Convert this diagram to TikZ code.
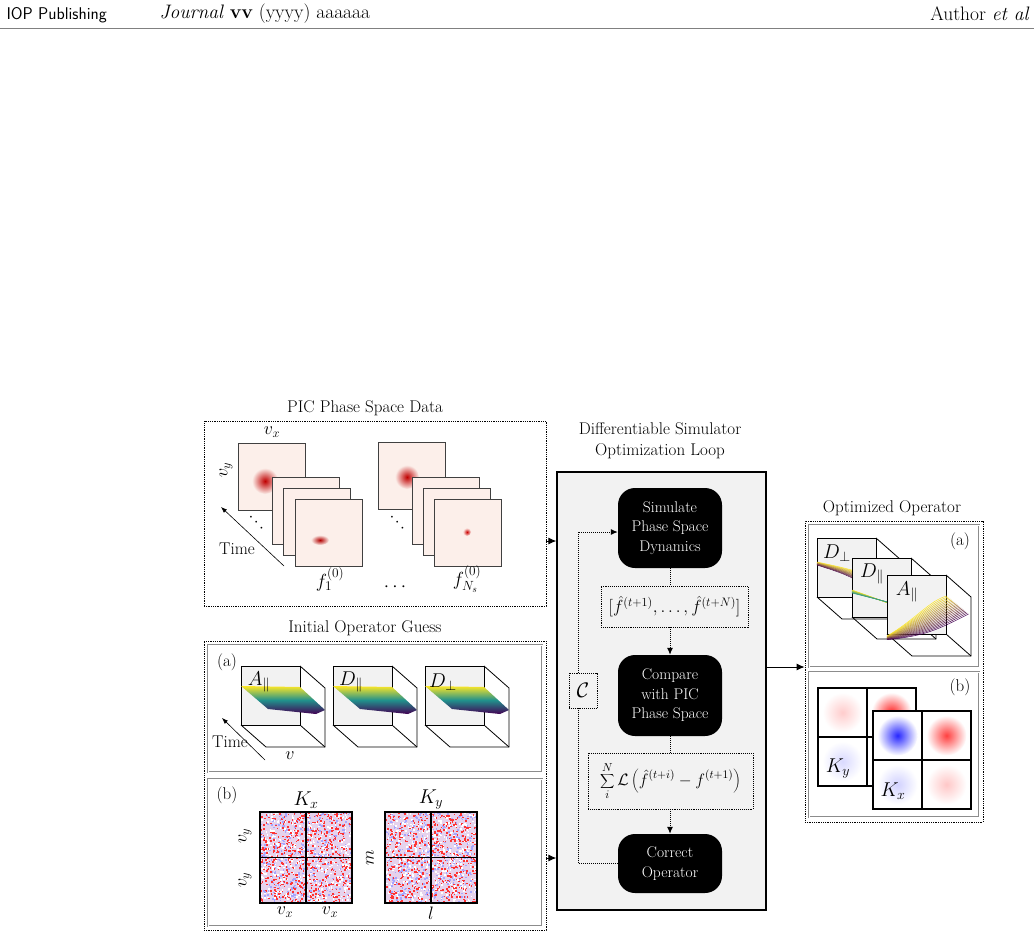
\documentclass[tikz,border=0pt]{standalone}
\usepackage{fix-cm}
\usetikzlibrary{arrows.meta,calc}
\definecolor{pinkbg}{HTML}{FCEFEA}
\definecolor{vy}{HTML}{FDE725}
\definecolor{vt}{HTML}{21918C}
\definecolor{vp}{HTML}{440154}
\definecolor{cubebg}{HTML}{F2F2F2}
\definecolor{lav}{HTML}{E6D2EC}
\begin{document}
\begin{tikzpicture}[x=1pt,y=-1pt,
  frm/.style={draw=black!75,fill=pinkbg,line width=0.8pt},
  panel/.style={draw,densely dotted,line width=0.8pt,minimum width=#1,inner sep=0pt},
  inpanel/.style={draw=black!45,double=white,double distance=0.6pt,line width=0.4pt,inner sep=0pt},
  blk/.style={fill=black,text=white,rounded corners=17pt,minimum width=104pt,minimum height=#1,align=center,inner sep=2pt,font=\fontsize{15.5}{19.5}\selectfont},
  dbox/.style={draw,densely dotted,line width=0.9pt,inner sep=0pt},
  ttl/.style={font=\fontsize{17}{21}\selectfont,align=center},
  arr/.style={-{Latex[length=8pt,width=7pt]},line width=0.9pt},
  darr/.style={densely dotted,line width=1pt},
  lab/.style={font=\fontsize{17}{19}\selectfont},
  ml/.style={font=\fontsize{18}{20}\selectfont}]
\useasboundingbox (0,0) rectangle (1034,938);
% header
\node[anchor=west,font=\sffamily\fontsize{17}{19}\selectfont] (h1) at (3,15) {IOP Publishing};
\node[anchor=west,font=\fontsize{19.5}{21}\selectfont] (h2) at (156,14) {\textit{Journal} \textbf{vv} (yyyy) aaaaaa};
\node[anchor=east,font=\fontsize{19.5}{21}\selectfont] (h3) at (1033,14) {Author \textit{et al}};
\draw[black!50,line width=0.5pt] (0,28) -- (1034,28);

% ---------- Panel 1
\node[panel=342pt,minimum height=185pt] (pic) at (375,513.5) {};
\node[ttl] (pict) at (365,408) {PIC Phase Space Data};
\newcommand\frmat[2]{\draw[frm] (#1,#2) rectangle ++(67,67);}
\frmat{238}{443}
\shade[inner color=red!75!black,outer color=pinkbg] (265,481) circle (13);
\frmat{272}{477}\frmat{283}{488}\frmat{295}{499}
\shade[inner color=red!70!black,outer color=pinkbg] (320,540) ellipse (9 and 5);
\frmat{378}{442}
\shade[inner color=red!75!black,outer color=pinkbg] (407,477) circle (12);
\frmat{412}{477}\frmat{423}{488}\frmat{434}{499}
\shade[inner color=red!80!black,outer color=pinkbg] (467,532) circle (4);
\node[ml] (vx1) at (272,432) {$v_x$};
\node[ml,rotate=90] (vy1) at (226,470) {$v_y$};
\coordinate (ta) at (284,566); \coordinate (tb) at (221,507);
\draw[-{Latex[length=6pt]},line width=0.6pt] (ta) -- (tb);
\node[lab] (time1) at (237,549) {Time};
\node[lab,rotate=-45] (dd1) at (256,523) {$\cdots$};
\node[lab,rotate=-45] (dd2) at (397,523) {$\cdots$};
\node[font=\fontsize{19}{21}\selectfont] (f1) at (330,579) {$f_1^{(0)}$};
\node[font=\fontsize{19}{21}\selectfont] (dd3) at (395,587) {$\cdots$};
\node[font=\fontsize{19}{21}\selectfont] (fn) at (467,579) {$f_{N_s}^{(0)}$};

% ---------- Panel 2
\node[panel=342pt,minimum height=289pt] (iog) at (375,785.5) {};
\node[ttl] (iogt) at (365,628) {Initial Operator Guess};
\node[inpanel,minimum width=334pt,minimum height=127pt] (iga) at (375,708.5) {};
\node[inpanel,minimum width=334pt,minimum height=147pt] (igb) at (375,852.5) {};
\node[lab] (la) at (227,662) {(a)};
\node[lab] (lb) at (227,795) {(b)};
\newcommand\cube[3]{% x y size
 \fill[cubebg] (#1,#2) rectangle ++(#3,#3);
 \draw[line width=0.8pt] (#1,#2) rectangle ++(#3,#3);
 \draw[line width=0.8pt] (#1+#3,#2) -- ++(25,22) -- ++(0,#3) -- ++(-#3,0) -- (#1,#2+#3);
 \draw[line width=0.8pt] (#1+#3,#2+#3) -- ++(25,22);}
\foreach \cx/\nm in {241/A_\parallel,333/D_\parallel,425/D_\perp}{
 \cube{\cx}{666}{59}
 \shade[top color=vy,bottom color=vp,middle color=vt] (\cx,686) -- (\cx+59,687) -- (\cx+84,710) -- (\cx+75,714) -- (\cx+27,709) -- cycle;
 \node[font=\fontsize{20}{22}\selectfont] at (\cx+18,682) {$\nm$};
}
\coordinate (tc) at (265,760); \coordinate (td) at (222,718);
\draw[-{Latex[length=6pt]},line width=0.6pt] (tc) -- (td);
\node[lab] (time2) at (230,742) {Time};
\node[ml] (vv) at (290,756) {$v$};
% noise grids
\newcommand\noisegrid[2]{%
 \fill[lav] (#1,#2) rectangle ++(92,91);
 \foreach \k in {1,...,1400}{
   \pgfmathsetmacro\rx{#1+rnd*90.4}\pgfmathsetmacro\ry{#2+rnd*89.4}
   \pgfmathsetmacro\rc{rnd}
   \ifdim\rc pt<0.45pt \fill[red!80] (\rx,\ry) rectangle ++(1.6,1.6);
   \else\ifdim\rc pt<0.75pt \fill[white] (\rx,\ry) rectangle ++(1.6,1.6);
   \else \fill[blue!35] (\rx,\ry) rectangle ++(1.6,1.6); \fi\fi }
 \draw[line width=1.4pt] (#1,#2) rectangle ++(92,91);
 \draw[line width=1.4pt] (#1+46,#2) -- ++(0,91) (#1,#2+45.5) -- ++(92,0);}
\pgfmathsetseed{7}
\noisegrid{260}{812}
\noisegrid{385}{812}
\node[font=\fontsize{20}{22}\selectfont] (kx) at (306,800) {$K_x$};
\node[font=\fontsize{20}{22}\selectfont] (ky) at (431,800) {$K_y$};
\node[ml,rotate=90] (vy2) at (245,836) {$v_y$};
\node[ml,rotate=90] (vy3) at (245,880) {$v_y$};
\node[ml] (vx2) at (285,912) {$v_x$};
\node[ml] (vx3) at (330,912) {$v_x$};
\node[ml,rotate=90] (mm) at (370,858) {$m$};
\node[ml] (ll) at (431,913) {$l$};

% ---------- Loop
\node[draw,fill=cubebg,line width=1.3pt,minimum width=209pt,minimum height=438pt,inner sep=0pt] (loop) at (661.5,691) {};
\node[ttl] (loopt) at (660,441) {Differentiable Simulator\\Optimization Loop};
\node[blk=80pt] (sim) at (670,528) {Simulate\\Phase Space\\Dynamics};
\node[blk=81pt] (cmp) at (670,695.5) {Compare\\with PIC\\Phase Space};
\node[blk=59pt] (cor) at (670,863.5) {Correct\\Operator};
\node[dbox,minimum width=147pt,minimum height=41pt] (fb) at (674.5,606.5) {\fontsize{17.5}{19}\selectfont$\Big[\hat f^{(t+1)},\ldots,\hat f^{(t+N)}\Big]$};
\node[dbox,minimum width=165pt,minimum height=56pt] (sb) at (670.5,781) {\fontsize{16.5}{19}\selectfont$\displaystyle\sum_i^N\mathcal{L}\left(\hat f^{(t+i)}-f^{(t+1)}\right)$};
\node[dbox,minimum width=28pt,minimum height=35pt] (cb) at (583,690.5) {\fontsize{21}{22}\selectfont$\mathcal{C}$};
\draw[darr] (sim.south) -- (sim.south |- fb.north);
\draw[darr,-{Latex[length=7pt,width=6pt]}] (sim.south |- fb.south) -- (cmp.north);
\draw[darr] (cmp.south) -- (cmp.south |- sb.north);
\draw[darr,-{Latex[length=7pt,width=6pt]}] (cmp.south |- sb.south) -- (cor.north);
\draw[darr] (cor.west) -| ([xshift=-5pt]cb.south);
\draw[darr,-{Latex[length=7pt,width=6pt]}] ([xshift=-5pt]cb.north) |- ([yshift=-4pt]sim.west);
\coordinate (a1) at ($(pic.east)+(0,27.5)$);
\draw[arr] (a1) -- (a1 -| loop.west);
\coordinate (a2) at ($(iog.east)+(0,72.5)$);
\draw[arr] (a2) -- (a2 -| loop.west);

% ---------- Optimized operator
\node[panel=178pt,minimum height=301pt] (opt) at (894,671.5) {};
\node[ttl] (optt) at (892,508) {Optimized Operator};
\node[inpanel,minimum width=170pt,minimum height=142pt] (opa) at (894,596) {};
\node[inpanel,minimum width=170pt,minimum height=145pt] (opb) at (894,744.5) {};
\node[lab] (ra) at (960,541) {(a)};
\node[lab] (rb) at (960,687) {(b)};
% cubes
\cube{817}{538}{59}
\foreach \i in {0,...,10}{\pgfmathsetmacro\pc{100-\i*9}
 \draw[vy!\pc!vp,line width=0.5pt] (817,562+\i*0.3) .. controls (845,568+\i*0.6) .. (876,577+\i*1.3);}
\node[font=\fontsize{20}{22}\selectfont] (dp) at (837,553) {$D_\perp$};
\cube{852}{558}{59}
\foreach \i in {0,...,10}{\pgfmathsetmacro\pc{100-\i*9}
 \draw[vy!\pc!vt,line width=0.5pt] (852,590+\i*0.3) .. controls (880,600) .. (911,612-\i*0.4);}
\node[font=\fontsize{20}{22}\selectfont] (dpl) at (872,574) {$D_\parallel$};
\cube{887}{575}{59}
\foreach \i in {0,...,18}{\pgfmathsetmacro\pc{100-\i*5.5}
 \draw[vy!\pc!vp,line width=0.5pt] (887,636+\i*0.2) .. controls (915+\i*0.6,620+\i*0.9) and (930+\i*0.5,600+\i*1.6) .. (947+\i*1.2,596+\i*1.0);}
\node[font=\fontsize{20}{22}\selectfont] (apl) at (907,592) {$A_\parallel$};
% K grids
\newcommand\kcell[4]{% x y color strength
 \fill[white] (#1,#2) rectangle ++(49,49);
 \shade[inner color=#3!#4,outer color=white] (#1+24.5,#2+24.5) circle (20);
 \draw[line width=1.2pt] (#1,#2) rectangle ++(49,49);}
\kcell{818}{688}{red}{20}\kcell{867}{688}{red}{85}
\kcell{818}{737}{blue}{15}\kcell{867}{737}{blue}{30}
\kcell{873}{711}{blue}{85}\kcell{922}{711}{red}{75}
\kcell{873}{760}{blue}{18}\kcell{922}{760}{red}{22}
\node[font=\fontsize{20}{22}\selectfont] (kyy) at (838,769) {$K_y$};
\node[font=\fontsize{20}{22}\selectfont] (kxx) at (893,791) {$K_x$};
\draw[arr] (loop.east |- 0,667) -- (opt.west |- 0,667);
\end{tikzpicture}
\end{document}
